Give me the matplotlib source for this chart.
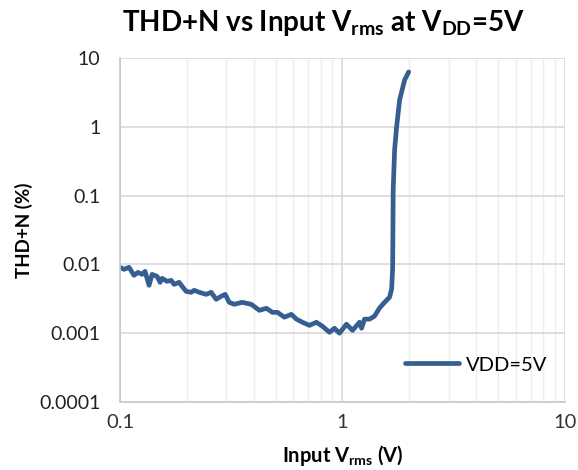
import matplotlib
matplotlib.use("Agg")
import matplotlib.pyplot as plt
from matplotlib.ticker import LogLocator, FixedLocator, FixedFormatter, NullFormatter

plt.rcParams['font.family'] = ['Lato', 'DejaVu Sans']
plt.rcParams['mathtext.fontset'] = 'custom'
plt.rcParams['mathtext.rm'] = 'Lato'
plt.rcParams['mathtext.bf'] = 'Lato:bold'

# Input Vrms (V) and THD+N (%)
vin = [0.1, 0.1042, 0.1098, 0.1156, 0.1205, 0.1256, 0.1296, 0.1351, 0.1394, 0.1468,
       0.1514, 0.1545, 0.1628, 0.1698, 0.175, 0.1844, 0.1902, 0.1982, 0.2089, 0.2155,
       0.227, 0.2439, 0.257, 0.2705, 0.285, 0.2971, 0.3096, 0.3263, 0.354, 0.389,
       0.423, 0.455, 0.484, 0.51, 0.548, 0.589, 0.621, 0.661, 0.71, 0.763,
       0.813, 0.874, 0.92, 0.969, 1.042, 1.109, 1.193, 1.218, 1.256, 1.323,
       1.393, 1.468, 1.546, 1.628, 1.663, 1.68, 1.683, 1.69, 1.715, 1.751,
       1.806, 1.902, 1.983]
thdn = [0.00906, 0.00848, 0.00906, 0.00693, 0.00766, 0.00716, 0.00792, 0.00497, 0.00716, 0.0067,
        0.00548, 0.00627, 0.00567, 0.00586, 0.00513, 0.00548, 0.0048, 0.00406, 0.00393, 0.0042,
        0.00393, 0.00367, 0.00393, 0.00311, 0.00344, 0.00367, 0.00281, 0.00263, 0.00281, 0.00263,
        0.00215, 0.0023, 0.00201, 0.00201, 0.00171, 0.00188, 0.0016, 0.00144, 0.0013, 0.00144,
        0.00126, 0.00103, 0.00118, 0.001, 0.00135, 0.0011, 0.00144, 0.00118, 0.0016, 0.0016,
        0.00177, 0.00233, 0.00281, 0.00334, 0.0044, 0.0087, 0.0164, 0.122, 0.464, 1.0,
        2.46, 4.8, 6.27]

xticks = [0.1, 1, 10]
xlabels = ['0.1', '1', '10']
yticks = [0.0001, 0.001, 0.01, 0.1, 1, 10]
ylabels = ['0.0001', '0.001', '0.01', '0.1', '1', '10']

fig = plt.figure(figsize=(5.78, 4.70), dpi=100)
ax = fig.add_axes([0.2076, 0.1447, 0.7699, 0.7319])

ax.plot(vin, thdn, color='#355E91', lw=3.4, label='VDD=5V', solid_capstyle='round')

ax.set_xscale('log')
ax.set_yscale('log')
ax.set_xlim(0.1, 10)
ax.set_ylim(0.0001, 10)

ax.xaxis.set_major_locator(FixedLocator(xticks))
ax.xaxis.set_major_formatter(FixedFormatter(xlabels))
ax.xaxis.set_minor_locator(LogLocator(base=10, subs=range(2, 10)))
ax.xaxis.set_minor_formatter(NullFormatter())
ax.yaxis.set_major_locator(FixedLocator(yticks))
ax.yaxis.set_major_formatter(FixedFormatter(ylabels))
ax.yaxis.set_minor_locator(FixedLocator([]))

ax.grid(True, which='major', color='#d9d9d9', lw=1.2)
ax.grid(True, which='minor', axis='x', color='#eeeeee', lw=1.0)
ax.set_axisbelow(True)
ax.tick_params(which='both', length=0, colors='#222222')
ax.tick_params(axis='x', labelsize=14.5, pad=9, labelcolor='#333333')
ax.tick_params(axis='y', labelsize=14, pad=14)

for s in ['top', 'right']:
    ax.spines[s].set_visible(False)
for s in ['left', 'bottom']:
    ax.spines[s].set_color('#c8c8c8')
    ax.spines[s].set_linewidth(1.2)

fig.text(324 / 578, 0.952, r'THD+N vs Input V$_\mathbf{rms}$ at V$_\mathbf{DD}$=5V',
         fontsize=20, fontweight='bold', ha='center', va='center')
ax.set_xlabel(r'Input V$_\mathbf{rms}$ (V)', fontsize=14.5, fontweight='bold')
ax.xaxis.set_label_coords(0.5, -0.118)
ax.set_ylabel('THD+N (%)', fontsize=13.5, fontweight='bold')
ax.yaxis.set_label_coords(-0.195, 0.5)

ax.legend(loc='lower right', bbox_to_anchor=(1.0, 0.03), frameon=False,
          fontsize=14.5, handlelength=2.7, handletextpad=0.3)

fig.savefig('out.png', dpi=100)
